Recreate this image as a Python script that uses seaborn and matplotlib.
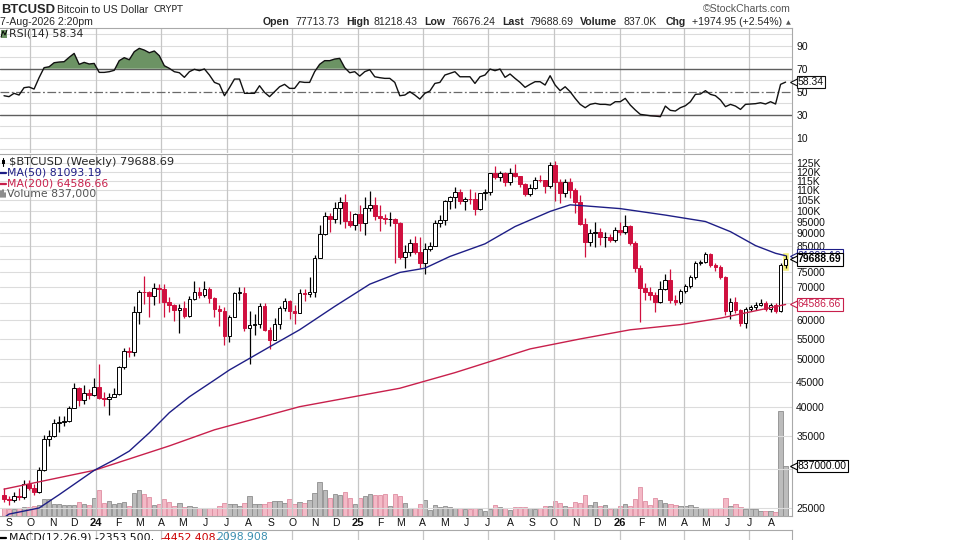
import numpy as np
import pandas as pd
import matplotlib
matplotlib.use("Agg")
import matplotlib.pyplot as plt
import matplotlib.dates as mdates
import matplotlib.transforms as mtransforms
from matplotlib.lines import Line2D
from matplotlib.patches import Rectangle
from matplotlib.ticker import FixedLocator, NullLocator, FixedFormatter
import seaborn as sns

sns.set_theme(style="white")
plt.rcParams["font.family"] = ["Liberation Sans", "DejaVu Sans"]

# ---------------- data ----------------
first_week = "2023-08-25"
first_open = 26600.0
closes = [26100, 25900, 26500, 26300, 27900, 27500, 26900, 29900, 34500, 35000,
          37100, 37300, 37500, 39900, 43700, 41400, 42700, 42300, 43900, 41700,
          41600, 42000, 42600, 48300, 52100, 51700, 62500, 68500, 68400, 67200,
          69700, 69300, 65400, 64500, 63000, 63500, 61300, 66200, 68500, 67500,
          69500, 66500, 63200, 62700, 55800, 60800, 68200, 68300, 57800, 58700,
          58900, 64200, 57300, 54800, 59100, 63500, 65600, 62600, 62100, 68300,
          67700, 68500, 80400, 89800, 97700, 96400, 101100, 104400, 95200, 93700,
          98300, 94500, 101100, 102600, 97700, 96500, 96100, 96300, 94300, 80700,
          82600, 86000, 82400, 78400, 83700, 85000, 94600, 95800, 104600, 106400,
          109000, 104600, 105700, 105500, 100900, 108400, 109200, 119100, 117300, 119400,
          114200, 119300, 117400, 113500, 108300, 111100, 115300, 115200, 112200, 123500,
          114500, 108600, 114500, 110000, 104000, 94000, 86300, 90200, 90700, 88300,
          88600, 87400, 91300, 90500, 93200, 86200, 76500, 69900, 68400, 67400,
          65400, 69500, 72400, 65800, 65300, 68900, 70400, 73300, 78500, 78900,
          81700, 77700, 76800, 73300, 62700, 65400, 62900, 59300, 63300, 63900,
          64400, 65000, 63100, 64400, 62700, 77713.73, 79688.69]
highs = [27400, 26400, 26900, 27400, 28500, 28500, 27900, 30300, 35200, 35900,
         37900, 38400, 38400, 40200, 44700, 44000, 44400, 43600, 45900, 48900,
         43000, 42800, 43800, 48500, 52800, 53000, 64000, 69200, 73700, 68900,
         71500, 71200, 71000, 67000, 64700, 64600, 65500, 67300, 71900, 70000,
         71900, 70000, 67000, 64500, 63800, 61500, 68500, 70000, 70000, 62700,
         61800, 65000, 64900, 58100, 60600, 64100, 66500, 66000, 64500, 69400,
         69500, 73500, 81500, 93400, 99600, 99000, 104000, 106500, 108300, 99900,
         99000, 102700, 106400, 109600, 106400, 102500, 98500, 99500, 96500, 95000,
         85300, 87500, 88800, 88500, 86100, 86500, 95700, 97900, 104900, 107100,
         111900, 110700, 106800, 110600, 108900, 108500, 110500, 119500, 123200, 120200,
         119800, 122300, 124500, 117600, 113600, 113400, 116800, 117900, 115400, 125700,
         126200, 115900, 116000, 116300, 111000, 107500, 96500, 91900, 94800, 92300,
         90500, 89800, 92500, 94700, 97900, 93400, 86800, 77500, 71500, 70000,
         68500, 72000, 74500, 76300, 67500, 69500, 71000, 74000, 79000, 79600,
         82600, 82200, 78500, 77500, 73800, 66500, 67000, 63300, 63900, 64500,
         65200, 66300, 65600, 65000, 64900, 78500, 81218.43]
lows = [25700, 25400, 25700, 26000, 26100, 27200, 26600, 26800, 29700, 33400,
        34800, 35600, 36700, 37400, 39900, 40200, 40600, 41500, 42200, 41500,
        40300, 38500, 41900, 42300, 47700, 50600, 50900, 59000, 64600, 60800,
        64500, 65000, 60800, 62500, 59800, 56500, 60600, 60800, 66000, 66600,
        66800, 65000, 60800, 58400, 53500, 54300, 60800, 65800, 57000, 49000,
        56100, 57800, 57200, 52600, 54700, 57600, 62700, 60300, 58900, 62000,
        65600, 66800, 66800, 80200, 89400, 90700, 94600, 94200, 92200, 92500,
        91500, 91200, 89300, 100100, 96000, 91200, 94100, 93300, 78200, 80000,
        76600, 81100, 81600, 76600, 74500, 83000, 84700, 92800, 93400, 100700,
        101500, 103100, 100400, 103100, 98200, 100300, 105100, 107500, 115700, 114700,
        112000, 112700, 116800, 111800, 107300, 107300, 110600, 114400, 108700, 111400,
        104500, 103500, 106700, 106300, 99000, 93500, 80500, 85000, 84300, 85300,
        84500, 86300, 86600, 89500, 89800, 85400, 75000, 59600, 66000, 65800,
        62500, 65100, 69000, 65000, 64500, 64800, 68000, 69800, 72800, 77800,
        78400, 76900, 75500, 72600, 61500, 60500, 62000, 58500, 57800, 62800,
        63000, 64000, 62600, 62500, 62000, 62300, 76676.24]
volume_k = [132, 115, 115, 132, 149, 149, 161, 189, 287, 287,
            206, 206, 189, 184, 178, 235, 201, 189, 304, 430,
            218, 247, 201, 218, 235, 172, 390, 436, 361, 321,
            189, 206, 292, 229, 172, 218, 149, 161, 149, 132,
            138, 132, 138, 161, 218, 206, 206, 172, 218, 333,
            206, 206, 206, 235, 258, 247, 218, 292, 206, 235,
            218, 275, 390, 562, 436, 304, 373, 344, 407, 304,
            206, 304, 333, 361, 350, 350, 361, 161, 361, 333,
            218, 132, 132, 206, 275, 103, 178, 149, 161, 149,
            132, 132, 115, 120, 132,
            115, 86, 115, 178, 149, 138, 103, 149, 149, 149,
            132, 115, 132, 161, 172, 247, 218, 161, 149, 235,
            218, 344, 189, 235, 161, 184, 115, 132, 161, 201,
            172, 292, 493, 247, 178, 304, 264, 218, 201, 178,
            161, 172, 178, 149, 132, 132, 132, 132, 132, 304,
            161, 201, 149, 115, 115, 115, 92, 92, 86, 75,
            1754, 837]
rsi14 = [46.5, 45.7, 48.6, 47.1, 53.5, 54.1, 52.3, 62.2, 70.9, 71.7,
         75.2, 75.8, 76.1, 79.9, 83.3, 73.8, 75.5, 74.1, 74.6, 66.8,
         66.8, 67.4, 68.6, 77.0, 79.6, 77.8, 84.8, 87.7, 86.2, 83.9,
         85.4, 81.3, 72.6, 70.3, 67.4, 66.5, 62.5, 67.4, 69.5, 68.3,
         69.8, 64.5, 58.1, 56.4, 46.5, 53.5, 61.0, 61.0, 48.6, 48.6,
         48.6, 55.2, 49.4, 45.7, 50.0, 54.3, 56.4, 52.9, 52.9, 58.7,
         58.1, 58.1, 67.4, 73.8, 77.0, 77.0, 78.4, 79.0, 70.9, 66.5,
         67.4, 63.6, 67.4, 69.1, 63.0, 62.2, 61.6, 61.6, 58.1, 46.5,
         47.1, 50.0, 47.1, 43.6, 48.6, 50.6, 57.2, 58.1, 64.5, 65.9,
         67.4, 63.0, 63.0, 63.0, 57.2, 63.0, 64.5, 69.7, 68.3, 69.7,
         62.5, 65.4, 61.6, 58.1, 53.8, 56.4, 58.7, 58.7, 55.8, 63.9,
         55.8, 50.9, 54.3, 50.0, 44.2, 39.0, 36.1, 39.0, 39.9, 39.0,
         39.0, 38.4, 41.3, 41.3, 44.2, 38.4, 34.1, 30.3, 29.7, 29.1,
         28.8, 28.3, 37.5, 33.8, 33.2, 36.1, 37.8, 41.3, 47.7, 48.0,
         50.9, 47.7, 46.5, 42.8, 37.0, 39.0, 37.5, 34.6, 39.0, 39.3,
         39.6, 40.4, 39.3, 41.3, 39.3, 56.4, 58.34]
ma50_week = [0, 1, 7, 11, 18, 22, 25, 29, 33, 37, 42, 45, 53, 59, 66, 73, 79, 84,
             89, 96, 102, 109, 113, 116, 123, 132, 140, 145, 150, 154, 156]
ma50_val = [23900, 24300, 25000, 26600, 29800, 31300, 32600, 35500, 39000, 42000,
            45400, 47600, 53000, 57400, 64000, 71000, 75000, 76500, 80800, 85700,
            92900, 99700, 102800, 102300, 101000, 98000, 95100, 90700, 85000, 82000,
            81093.19]
ma200_week = [0, 18, 33, 42, 59, 79, 90, 105, 115, 125, 135, 143, 156]
ma200_val = [27300, 29800, 33400, 36000, 40100, 43700, 47000, 52500, 55000, 57400,
             58800, 60600, 64586.66]
price_ticks = [25000, 30000, 35000, 40000, 45000, 50000, 55000, 60000, 65000, 70000,
               75000, 80000, 85000, 90000, 95000, 100000, 105000, 110000, 115000,
               120000, 125000]
price_tick_labels = ["25000", "30000", "35000", "40000", "45000", "50000", "55000",
                     "60000", "65000", "70000", "75000", "80000", "85000", "90000",
                     "95000", "100K", "105K", "110K", "115K", "120K", "125K"]
rsi_ticks = [10, 30, 50, 70, 90]
month_tick_labels = ["S", "O", "N", "D",
                     "24", "F", "M", "A", "M", "J", "J", "A", "S", "O", "N", "D",
                     "25", "F", "M", "A", "M", "J", "J", "A", "S", "O", "N", "D",
                     "26", "F", "M", "A", "M", "J", "J", "A"]

# ---------------- frame ----------------
dates = pd.date_range(first_week, periods=len(closes), freq="7D")
xn = mdates.date2num(dates.to_pydatetime())
opens = [first_open] + closes[:-1]
df = pd.DataFrame({"x": xn, "open": opens, "close": closes, "high": highs,
                   "low": lows, "volume": np.array(volume_k) * 1000.0, "rsi": rsi14})
up = df["close"] >= df["open"]

W, H = 974, 540
fig = plt.figure(figsize=(W / 100, H / 100), dpi=100, facecolor="white")


def rect(l, t, r, b):
    return [l / W, 1 - b / H, (r - l) / W, (b - t) / H]


def ftxt(x, y, s, **kw):
    return fig.text(x / W, 1 - y / H, s, **kw)


ax_r = fig.add_axes(rect(0, 28, 792, 153))
ax_p = fig.add_axes(rect(0, 154, 792, 516), sharex=ax_r)
ax_m = fig.add_axes(rect(0, 530, 792, 610), sharex=ax_r)

GRID = "#dcdcdc"
QGRID = "#c6c6c6"
SPINE = "#a9a9a9"
RED = "#d0103f"
NAVY = "#1e1e86"
CRIMSON = "#c8204c"

x0 = xn[0] - 0.8 * 7
x1 = xn[0] + 157.28 * 7
ax_r.set_xlim(x0, x1)

month_starts = pd.date_range("2023-09-01", periods=len(month_tick_labels), freq="MS")
mn = mdates.date2num(month_starts.to_pydatetime())
quarter_x = [m for m, d in zip(mn, month_starts) if d.month in (1, 4, 7, 10)]

for ax in (ax_r, ax_p, ax_m):
    ax.set_facecolor("none")
    ax.spines["left"].set_visible(False)
    for side in ("top", "right", "bottom"):
        ax.spines[side].set_color(SPINE)
        ax.spines[side].set_linewidth(0.8)
    for q in quarter_x:
        ax.axvline(q, color=QGRID, lw=0.9, zorder=0.5)
ax_r.spines["bottom"].set_visible(False)

# ---------------- RSI panel ----------------
ax_r.set_ylim(-3.3, 105.4)
for lvl in range(0, 101, 10):
    if lvl not in (30, 50, 70):
        ax_r.axhline(lvl, color=GRID, lw=0.8, zorder=0.4)
ax_r.axhline(70, color="#5f5f5f", lw=1.0, zorder=1)
ax_r.axhline(30, color="#5f5f5f", lw=1.0, zorder=1)
ax_r.axhline(50, color="#6a6a6a", lw=0.9, ls=(0, (7, 2, 1.5, 2)), zorder=1)
rsi = df["rsi"].to_numpy()
ax_r.fill_between(xn, rsi, 70, where=rsi >= 70, interpolate=True,
                  color="#6c9364", lw=0, zorder=1.5)
ax_r.fill_between(xn, rsi, 30, where=rsi <= 30, interpolate=True,
                  color="#9a6a78", lw=0, zorder=1.5)
sns.lineplot(data=df, x="x", y="rsi", ax=ax_r, color="#111111", lw=1.0, zorder=3)
ax_r.set_xlabel("")
ax_r.set_ylabel("")
ax_r.yaxis.tick_right()
ax_r.yaxis.set_major_locator(FixedLocator(rsi_ticks))
ax_r.yaxis.set_major_formatter(FixedFormatter([str(t) for t in rsi_ticks]))
ax_r.tick_params(axis="y", length=0, pad=3, labelsize=7.5, colors="#111111")
ax_r.tick_params(axis="x", length=0, labelbottom=False)

# ---------------- price panel ----------------
ax_p.set_yscale("log")
ax_p.set_ylim(24085, 130300)
for t in price_ticks:
    ax_p.axhline(t, color=GRID, lw=0.8, zorder=0.4)

ax_v = ax_p.twinx()
ax_v.set_zorder(ax_p.get_zorder() - 1)
vol_top = df["volume"].iloc[-1] * 362 / 50
ax_v.set_ylim(0, vol_top)
ax_v.bar(df["x"], df["volume"], width=7 * 0.86,
         color=np.where(up, "#bcbcbc", "#f3b9c6"),
         edgecolor=np.where(up, "#8e8e8e", "#df8ea2"), lw=0.6, zorder=1)
ax_v.axis("off")

# yellow highlight of the last bar
last = df.iloc[-1]
ax_p.bar(last["x"], last["high"] * 1.018 - last["low"] * 0.985,
         bottom=last["low"] * 0.985, width=9.0, color="#f4f07a", zorder=2)

wick_c = np.where(up, "#000000", RED)
ax_p.vlines(df["x"], df["low"], df["high"], colors=wick_c, lw=0.9, zorder=3)
body_lo = np.minimum(df["open"], df["close"])
body_h = np.maximum(np.abs(df["close"] - df["open"]), df["close"] * 0.002)
ax_p.bar(df["x"], body_h, bottom=body_lo, width=5.2,
         color=np.where(up, "white", RED), edgecolor=np.where(up, "#000000", RED),
         lw=0.7, zorder=4)

sns.lineplot(x=xn[ma200_week], y=ma200_val, ax=ax_p, color=CRIMSON, lw=1.0, zorder=5)
sns.lineplot(x=xn[ma50_week], y=ma50_val, ax=ax_p, color=NAVY, lw=1.0, zorder=5)
ax_p.set_xlabel("")
ax_p.set_ylabel("")

ax_p.yaxis.tick_right()
ax_p.yaxis.set_major_locator(FixedLocator(price_ticks))
ax_p.yaxis.set_major_formatter(FixedFormatter(price_tick_labels))
ax_p.yaxis.set_minor_locator(NullLocator())
ax_p.tick_params(axis="y", which="both", length=0, pad=3, labelsize=7.5, colors="#111111")

ax_p.xaxis.set_major_locator(FixedLocator(mn))
ax_p.xaxis.set_major_formatter(FixedFormatter(month_tick_labels))
ax_p.xaxis.set_minor_locator(NullLocator())
ax_p.tick_params(axis="x", length=0, pad=1.5, labelsize=7.5, colors="#111111")
for lbl in ax_p.get_xticklabels():
    if lbl.get_text().isdigit():
        lbl.set_fontweight("bold")
        lbl.set_fontsize(8)

# ---------------- MACD stub panel ----------------
ax_m.set_ylim(0, 1)
ax_m.tick_params(axis="both", length=0, labelbottom=False, labelleft=False,
                 labelright=False)

# ---------------- value tags (box + small pointer) ----------------
def tag(ax, y, text, ec, tc, bold=False, trans=None, z=8):
    tr = trans if trans is not None else mtransforms.blended_transform_factory(
        ax.transAxes, ax.transData)
    ax.plot([1.0 + 3.2 / 792], [y], transform=tr, marker="<", ms=6.5, mfc="white",
            mec=ec, mew=0.8, ls="none", zorder=z, clip_on=False)
    ax.text(1.0 + 6 / 792, y, text, transform=tr, ha="left", va="center",
            fontsize=7.5, color=tc, fontweight="bold" if bold else "normal",
            bbox=dict(boxstyle="square,pad=0.12", fc="white", ec=ec, lw=0.8),
            zorder=z + 0.5, clip_on=False)

tag(ax_r, rsi14[-1], f"{rsi14[-1]:.2f}", "#111111", "#111111")
tag(ax_p, ma50_val[-1], f"{ma50_val[-1]:.2f}", NAVY, NAVY, z=8)
tag(ax_p, closes[-1], f"{closes[-1]:.2f}", "#000000", "#000000", bold=True, z=9)
tag(ax_p, ma200_val[-1], f"{ma200_val[-1]:.2f}", CRIMSON, CRIMSON)
tag(ax_p, df["volume"].iloc[-1] / vol_top, f"{df['volume'].iloc[-1]:.2f}",
    "#000000", "#000000", trans=ax_p.transAxes)

# ---------------- header ----------------
ftxt(1, 13, "BTCUSD", fontsize=9.4, fontweight="bold", va="baseline")
ftxt(57, 13, "Bitcoin to US Dollar", fontsize=7.6, va="baseline")
ftxt(153, 12.5, "CRYPT", fontsize=6.8, va="baseline", family="DejaVu Sans")
ftxt(703, 12.5, "\u00a9StockCharts.com", fontsize=7.6, va="baseline", color="#555555")
ftxt(0, 25, "7-Aug-2026 2:20pm", fontsize=7.6, va="baseline")
header = [(263, "Open", True), (295, "77713.73", False), (346, "High", True),
          (373, "81218.43", False), (424, "Low", True), (451, "76676.24", False),
          (502, "Last", True), (529, "79688.69", False), (580, "Volume", True),
          (623, "837.0K", False), (666, "Chg", True), (692, "+1974.95 (+2.54%)", False)]
for x, s, b in header:
    ftxt(x, 25, s, fontsize=7.6, va="baseline", fontweight="bold" if b else "normal")
ftxt(786, 24.5, "\u25b2", fontsize=4.5, va="baseline", color="#555555",
     family="DejaVu Sans")

# RSI label
fig.add_artist(Rectangle((0.5 / W, 1 - 38 / H), 6 / W, 8 / H, transform=fig.transFigure,
                         color="#6c9364", lw=0))
fig.add_artist(Line2D([1 / W, 3 / W, 5 / W, 7 / W], [1 - 37 / H, 1 - 31 / H, 1 - 35 / H, 1 - 30 / H],
                      transform=fig.transFigure, color="black", lw=0.7))
ftxt(9, 34, "RSI(14) 58.34", fontsize=7.8, va="center", family="DejaVu Sans")

# price legend
fig.add_artist(Line2D([3 / W, 3 / W], [1 - 158 / H, 1 - 166 / H], transform=fig.transFigure,
                      color="black", lw=0.8))
fig.add_artist(Rectangle((1.5 / W, 1 - 164 / H), 3 / W, 4 / H, transform=fig.transFigure,
                         fc="black", lw=0))
ftxt(9, 162, "$BTCUSD (Weekly) 79688.69", fontsize=8.2, va="center", family="DejaVu Sans")
fig.add_artist(Line2D([0, 6 / W], [1 - 172.5 / H] * 2, transform=fig.transFigure,
                      color=NAVY, lw=1.6))
ftxt(7, 172.5, "MA(50) 81093.19", fontsize=7.8, va="center", color=NAVY,
     family="DejaVu Sans")
fig.add_artist(Line2D([0, 6 / W], [1 - 183.5 / H] * 2, transform=fig.transFigure,
                      color=CRIMSON, lw=1.6))
ftxt(7, 183.5, "MA(200) 64586.66", fontsize=7.8, va="center", color=CRIMSON,
     family="DejaVu Sans")
for xx, hh in ((1, 6), (3, 7), (5, 4)):
    fig.add_artist(Line2D([xx / W, xx / W], [1 - 197 / H, 1 - (197 - hh) / H],
                          transform=fig.transFigure, color="#777777", lw=1.2))
ftxt(7, 193.5, "Volume 837,000", fontsize=7.8, va="center", color="#555555",
     family="DejaVu Sans")

# MACD label (cut at bottom edge, as in the reference)
fig.add_artist(Line2D([0, 6 / W], [1 - 537.5 / H] * 2, transform=fig.transFigure,
                      color="black", lw=1.6))
macd_parts = [(9, "MACD(12,26,9) -2353.500,", "#111111"),
              (160, "-4452.408,", "#cc0000"),
              (216, "2098.908", "#3b8fb0")]
for x, s, col in macd_parts:
    ftxt(x, 537.5, s, fontsize=7.8, va="center", color=col, family="DejaVu Sans")

fig.savefig("out.png", dpi=100, facecolor="white")
